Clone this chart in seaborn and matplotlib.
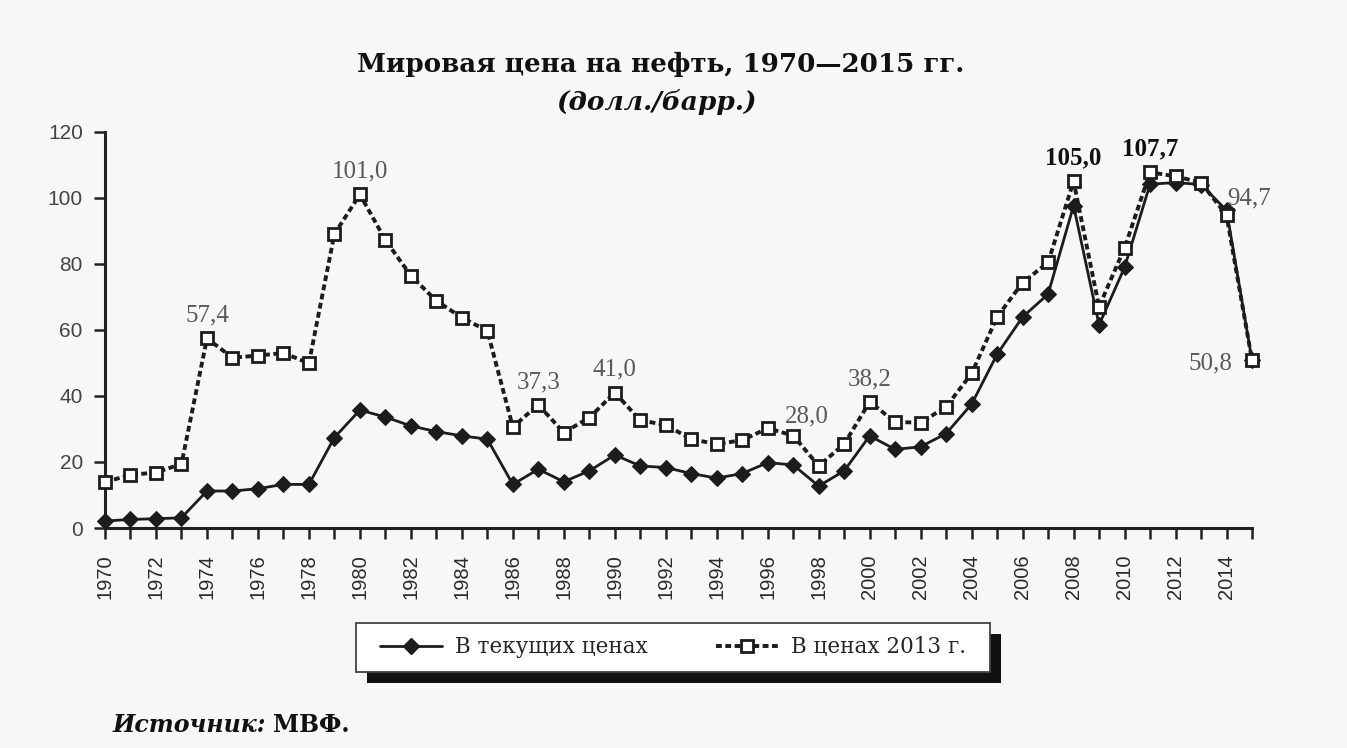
import matplotlib
matplotlib.use("Agg")
import matplotlib.pyplot as plt
import seaborn as sns
import pandas as pd
from matplotlib.lines import Line2D
from matplotlib.patches import Rectangle

years = list(range(1970, 2016))
current_prices = [2.1, 2.6, 2.8, 3.1, 11.2, 11.2, 11.9, 13.2, 13.2, 27.4,
                  35.7, 33.6, 30.9, 29.2, 27.9, 26.9, 13.2, 17.8, 14.0, 17.3,
                  22.1, 18.8, 18.3, 16.5, 15.1, 16.5, 19.8, 19.1, 12.7, 17.3,
                  27.9, 23.8, 24.6, 28.6, 37.5, 52.6, 63.9, 70.8, 97.6, 61.5,
                  78.9, 104.1, 104.6, 104.0, 96.2, 50.8]
prices_2013 = [13.9, 16.1, 16.8, 19.4, 57.4, 51.6, 52.2, 53.0, 49.9, 89.0,
               101.0, 87.2, 76.4, 68.8, 63.7, 59.7, 30.6, 37.3, 28.9, 33.4,
               41.0, 32.6, 31.2, 26.9, 25.4, 26.6, 30.2, 28.0, 18.8, 25.4,
               38.2, 32.1, 31.9, 36.7, 46.8, 63.9, 74.3, 80.4, 105.0, 67.0,
               84.8, 107.7, 106.5, 104.6, 94.7, 50.8]

label_years = [1974, 1980, 1987, 1990, 1997, 2000, 2008, 2011, 2014, 2015]
label_texts = ["57,4", "101,0", "37,3", "41,0", "28,0", "38,2", "105,0", "107,7", "94,7", "50,8"]
label_bold = [False, False, False, False, False, False, True, True, False, False]

series_names = ["В текущих ценах", "В ценах 2013 г."]
title = "Мировая цена на нефть, 1970—2015 гг."
subtitle = "(долл./барр.)"
source_label = "Источник:"
source_name = "МВФ."

sns.set_style("ticks")
plt.rcParams['font.family'] = ['Liberation Serif', 'DejaVu Serif']

bg = "#f7f7f7"
W, H = 1347, 748
fig = plt.figure(figsize=(W / 100, H / 100), dpi=100, facecolor=bg)
ax = fig.add_axes([105 / W, 1 - 528 / H, (1252 - 105) / W, (528 - 131.7) / H])
ax.set_facecolor(bg)

df = pd.DataFrame({"year": years, "cur": current_prices, "p13": prices_2013})

lc = "#1c1c1c"
dash = (0, (1.5, 0.9))
sns.lineplot(data=df, x="year", y="cur", ax=ax, color=lc, linewidth=2.0,
             marker="D", markersize=8, markerfacecolor=lc, markeredgecolor=lc,
             clip_on=False, zorder=3)
sns.lineplot(data=df, x="year", y="p13", ax=ax, color=lc, linewidth=2.8,
             linestyle=dash, marker="s", markersize=8.5,
             markerfacecolor="white", markeredgecolor=lc, markeredgewidth=2.0,
             clip_on=False, zorder=4)

ax.set_xlim(1970, 2015)
ax.set_ylim(0, 120)
ax.set_xticks(years)
ax.set_xticklabels([str(y) if (y % 2 == 0) else "" for y in years], rotation=90,
                   fontsize=14.5, color="#2a2a2a", family="Liberation Sans")
ax.set_yticks(range(0, 121, 20))
ax.set_yticklabels([str(v) for v in range(0, 121, 20)], fontsize=15,
                   color="#444444", family="Liberation Sans")
ax.tick_params(axis="both", direction="out", length=8, width=1.8, color="#222222")
ax.tick_params(axis="x", pad=11)
ax.tick_params(axis="y", pad=8)
for s in ["top", "right"]:
    ax.spines[s].set_visible(False)
for s in ["left", "bottom"]:
    ax.spines[s].set_linewidth(2.2)
    ax.spines[s].set_color("#222222")
ax.set_xlabel("")
ax.set_ylabel("")

offsets = {1974: (0, 12, "center"), 1980: (0, 12.5, "center"), 1987: (0, 12, "center"),
           1990: (0, 12, "center"), 1997: (9.5, 9.5, "center"), 2000: (0, 12, "center"),
           2008: (0, 12.5, "center"), 2011: (0, 12, "center"), 2014: (0.5, 8, "left"),
           2015: (-14, -6.5, "right")}
for yr, txt, b in zip(label_years, label_texts, label_bold):
    v = prices_2013[years.index(yr)]
    dx, dy, ha = offsets[yr]
    ax.annotate(txt, (yr, v), xytext=(dx, dy), textcoords="offset points",
                ha=ha, va="baseline", fontsize=18,
                color="#111111" if b else "#595959",
                fontweight="bold" if b else "normal", zorder=6)

fig.text(661 / W, 1 - 64 / H, title, ha="center", va="center", fontsize=18.8,
         fontweight="bold", color="#111111", family="DejaVu Serif")
fig.text(657 / W, 1 - 102 / H, subtitle, ha="center", va="center", fontsize=19,
         fontstyle="italic", fontweight="bold", color="#111111", family="DejaVu Serif")

handles = [Line2D([0], [0], color=lc, lw=2.0, marker="D", markersize=8,
                  markerfacecolor=lc, markeredgecolor=lc),
           Line2D([0], [0], color=lc, lw=2.8, linestyle=dash, marker="s",
                  markersize=8.5, markerfacecolor="white", markeredgecolor=lc,
                  markeredgewidth=2.0)]
leg = fig.legend(handles, series_names, loc="center", ncol=2,
                 bbox_to_anchor=(673 / W, 1 - 647.5 / H), frameon=False,
                 handlelength=2.85, handletextpad=0.6, columnspacing=3.2,
                 borderpad=0.5, prop={"family": "DejaVu Serif", "size": 15.5})
leg.set_zorder(6)

# legend frame (wider than the text block) with a solid drop shadow
fig.canvas.draw()
bb = leg.get_window_extent()
x0, x1 = bb.x0 - 14, bb.x1 + 14
y0, y1 = (H - 672), (H - 623)
shadow = Rectangle((x0 + 11, y0 - 11), x1 - x0, y1 - y0, transform=None,
                   facecolor="#111111", edgecolor="none", zorder=4)
frame = Rectangle((x0, y0), x1 - x0, y1 - y0, transform=None,
                  facecolor="white", edgecolor="#444444", linewidth=1.3, zorder=5)
fig.patches.extend([shadow, frame])

t1 = fig.text(113 / W, 1 - 725 / H, source_label, ha="left", va="center",
              fontsize=17, fontweight="bold", fontstyle="italic", color="#111111",
              family="DejaVu Serif")
fig.canvas.draw()
b1 = t1.get_window_extent().transformed(fig.transFigure.inverted())
fig.text(b1.x1 + 7 / W, 1 - 725 / H, source_name, ha="left", va="center",
         fontsize=17, fontweight="bold", color="#111111", family="DejaVu Serif")

fig.savefig("out.png", dpi=100, facecolor=bg)
